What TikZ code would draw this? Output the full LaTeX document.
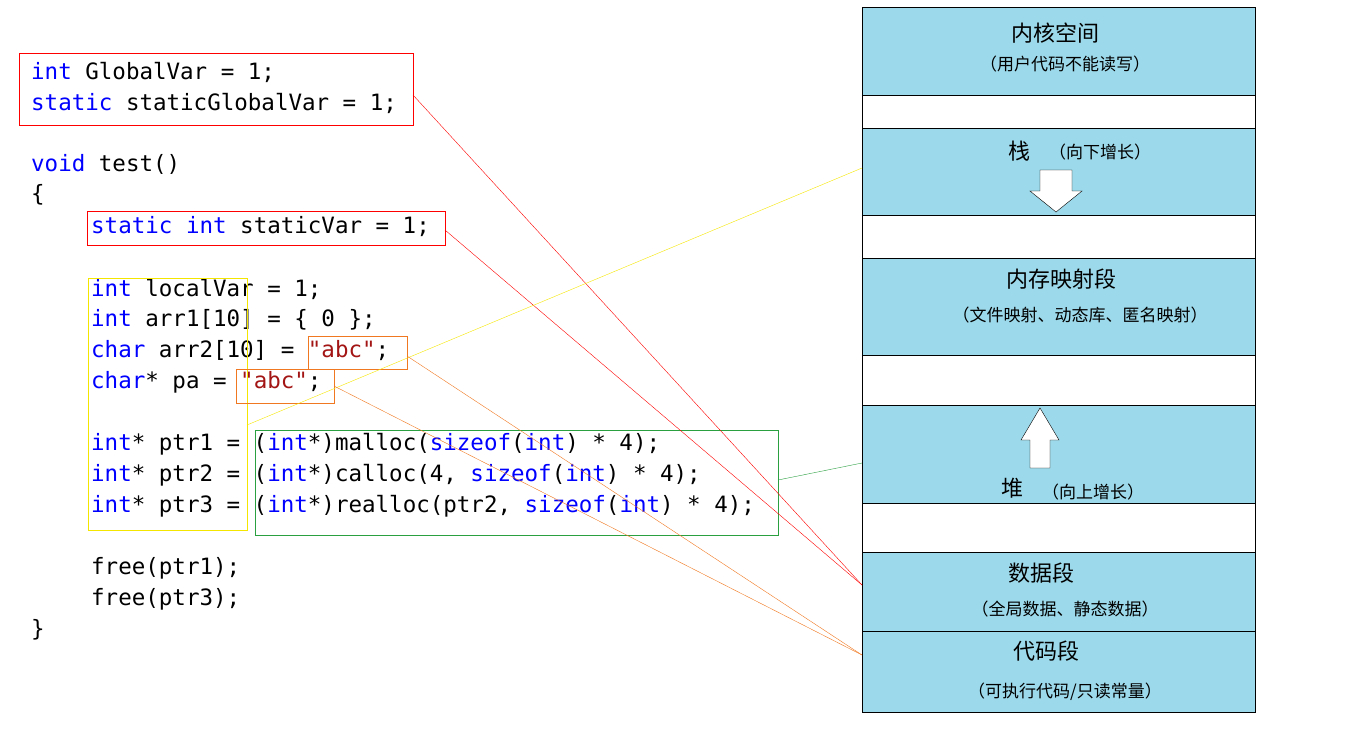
\documentclass[tikz,border=0pt]{standalone}
\usepackage{fontspec}
\setmonofont{DejaVu Sans Mono}
\newfontfamily\cjk{Noto Sans CJK SC}
\definecolor{kw}{HTML}{0000FF}
\definecolor{str}{HTML}{A31515}
\definecolor{seg}{HTML}{9CD9EA}
\definecolor{org}{HTML}{F07820}
\definecolor{grn}{HTML}{2AA040}
\definecolor{yel}{HTML}{F5E600}
\newcommand{\kw}[1]{\textcolor{kw}{#1}}
\newcommand{\str}[1]{\textcolor{str}{#1}}
\begin{document}
\begin{tikzpicture}[x=1pt,y=-1pt,
  code/.style={anchor=west,inner sep=0pt,font=\fontsize{22.5}{26}\ttfamily},
  seg/.style={draw=black,fill=seg,line width=0.8pt},
  gap/.style={draw=black,fill=white,line width=0.8pt},
  title/.style={font=\cjk\fontsize{22}{26}\selectfont},
  sub/.style={font=\cjk\fontsize{17}{20}\selectfont}]
\useasboundingbox (0,0) rectangle (1362,732);
% code
\node[code] (l1) at (31,72) {\kw{int} GlobalVar = 1;};
\node[code] (l2) at (31,103) {\kw{static} staticGlobalVar = 1;};
\node[code] (l3) at (31,164) {\kw{void} test()};
\node[code] (l4) at (31,195) {\{};
\node[code] (l5) at (91,227) {\kw{static} \kw{int} staticVar = 1;};
\node[code] (l6) at (91,289) {\kw{int} localVar = 1;};
\node[code] (l7) at (91,320) {\kw{int} arr1[10] = \{ 0 \};};
\node[code] (l8) at (91,351) {\kw{char} arr2[10] = \str{"abc"};};
\node[code] (l9) at (91,382) {\kw{char}* pa = \str{"abc"};};
\node[code] (l10) at (91,444) {\kw{int}* ptr1 = (\kw{int}*)malloc(\kw{sizeof}(\kw{int}) * 4);};
\node[code] (l11) at (91,475) {\kw{int}* ptr2 = (\kw{int}*)calloc(4, \kw{sizeof}(\kw{int}) * 4);};
\node[code] (l12) at (91,506) {\kw{int}* ptr3 = (\kw{int}*)realloc(ptr2, \kw{sizeof}(\kw{int}) * 4);};
\node[code] (l13) at (91,568) {free(ptr1);};
\node[code] (l14) at (91,599) {free(ptr3);};
\node[code] (l15) at (31,630) {\}};
% highlight boxes
\draw[red] (19,53) rectangle (413,125);
\coordinate (rA) at (413,95);
\draw[red] (87,211) rectangle (445,245);
\coordinate (rB) at (445,230);
\draw[yel] (88,278) rectangle (247,530);
\coordinate (yA) at (247,425);
\draw[org] (308,336) rectangle (407,369);
\coordinate (oA) at (407,356);
\draw[org] (236,369) rectangle (334,403);
\coordinate (oB) at (334,386);
\draw[grn] (255,430) rectangle (778,535);
\coordinate (gA) at (778,480);
% memory layout
\draw[seg] (862,7) rectangle (1255,95);
\draw[gap] (862,95) rectangle (1255,128);
\draw[seg] (862,128) rectangle (1255,215);
\draw[gap] (862,215) rectangle (1255,258);
\draw[seg] (862,258) rectangle (1255,355);
\draw[gap] (862,355) rectangle (1255,405);
\draw[seg] (862,405) rectangle (1255,503);
\draw[gap] (862,503) rectangle (1255,552);
\draw[seg] (862,552) rectangle (1255,631);
\draw[seg] (862,631) rectangle (1255,712);
\node[title] (k1) at (1055,33) {内核空间};
\node[sub] (k2) at (1065,64) {（用户代码不能读写）};
\node[title] (s1) at (1019,151) {栈};
\node[sub] (s2) at (1100,152) {（向下增长）};
\draw[fill=white] (1040,170) -- (1072,170) -- (1072,191) -- (1082,191) -- (1056,212) -- (1030,191) -- (1040,191) -- cycle;
\node[title] (m1) at (1061,279) {内存映射段};
\node[sub] (m2) at (1080,315) {（文件映射、动态库、匿名映射）};
\draw[fill=white] (1030,468) -- (1030,440) -- (1021,440) -- (1040,408) -- (1059,440) -- (1050,440) -- (1050,468) -- cycle;
\node[title] (h1) at (1012,488) {堆};
\node[sub] (h2) at (1093,492) {（向上增长）};
\node[title] (d1) at (1041,573) {数据段};
\node[sub] (d2) at (1065,609) {（全局数据、静态数据）};
\node[title] (c1) at (1046,651) {代码段};
\node[sub] (c2) at (1065,692) {（可执行代码/只读常量）};
\coordinate (pData) at (862,585);
\coordinate (pCode) at (862,655);
\coordinate (pStack) at (862,168);
\coordinate (pHeap) at (862,463);
% connectors
\draw[red] (rA) -- (pData);
\draw[red] (rB) -- (pData);
\draw[yel] (yA) -- (pStack);
\draw[grn] (gA) -- (pHeap);
\draw[org] (oA) -- (pCode);
\draw[org] (oB) -- (pCode);
\end{tikzpicture}
\end{document}
